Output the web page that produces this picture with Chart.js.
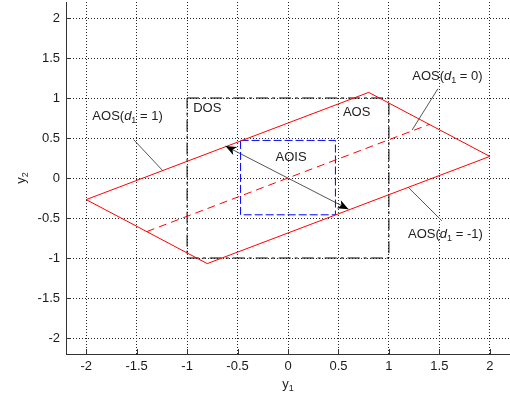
<!DOCTYPE html>
<html lang="en">
<head>
<meta charset="UTF-8">
<title>AOS / DOS / AOIS</title>
<script src="https://cdn.jsdelivr.net/npm/chart.js@4.4.1/dist/chart.umd.min.js"></script>
<style>
    html, body { margin: 0; padding: 0; background: #fff; }
    .chart-container { position: relative; width: 510px; height: 399px; }
</style>
</head>
<body>
<div class="chart-container"><canvas id="aosChart"></canvas></div>
<script>
// --- axis limits and ticks ---
const axisMin = -2.2, axisMax = 2.2;
const xTicks = [-2, -1.5, -1, -0.5, 0, 0.5, 1, 1.5, 2];
const yTicks = [-2, -1.5, -1, -0.5, 0, 0.5, 1, 1.5, 2];

// --- AOS parallelogram (d1 from -1 to 1) ---
const aosX = [-2, 0.8, 2, -0.8, -2];
const aosY = [-0.27, 1.07, 0.27, -1.07, -0.27];
// AOS for d1 = 0
const midX = [-1.4, 1.4];
const midY = [-0.67, 0.67];
// DOS box
const dosX = [-1, 1, 1, -1, -1];
const dosY = [1, 1, -1, -1, 1];
// AOIS box
const aoisX = [-0.47, 0.47, 0.47, -0.47, -0.47];
const aoisY = [0.47, 0.47, -0.46, -0.46, 0.47];
// double arrow
const arrowX = [-0.62, 0.6];
const arrowY = [0.40, -0.39];
// leader lines for the labels
const lead1X = [-1.53, -1.24], lead1Y = [0.48, 0.09];
const lead0X = [1.485, 1.23], lead0Y = [1.115, 0.6];
const leadM1X = [1.19, 1.525], leadM1Y = [-0.115, -0.535];

// --- text labels (data units) ---
const labelX = [-1.59, 1.58, 1.56, -0.80, 0.68, 0.03];
const labelY = [0.77, 1.27, -0.71, 0.866, 0.815, 0.254];
const labelParts = [
    [{t: 'AOS('}, {t: 'd', it: true}, {t: '1', sub: true}, {t: ' = 1)'}],
    [{t: 'AOS('}, {t: 'd', it: true}, {t: '1', sub: true}, {t: ' = 0)'}],
    [{t: 'AOS('}, {t: 'd', it: true}, {t: '1', sub: true}, {t: ' = -1)'}],
    [{t: 'DOS'}],
    [{t: 'AOS'}],
    [{t: 'AOIS'}]
];

const FONT = "'Liberation Sans', Arial, Helvetica, sans-serif";
const FS = 13;

const pts = (xs, ys) => xs.map((x, i) => ({x: x, y: ys[i]}));

function line(xs, ys, color, dash, width) {
    return {
        data: pts(xs, ys),
        showLine: true,
        borderColor: color,
        borderWidth: width || 1,
        borderDash: dash || [],
        pointRadius: 0,
        fill: false,
        tension: 0
    };
}

function fontFor(p, size) {
    const s = p.sub ? Math.round(size * 0.7) : size;
    return (p.it ? 'italic ' : '') + s + 'px ' + FONT;
}

function drawRich(ctx, cx, cy, parts, size) {
    let w = 0;
    parts.forEach(p => { ctx.font = fontFor(p, size); p.w = ctx.measureText(p.t).width; w += p.w; });
    let x = cx - w / 2;
    ctx.textAlign = 'left';
    ctx.textBaseline = 'middle';
    parts.forEach(p => {
        ctx.font = fontFor(p, size);
        ctx.fillText(p.t, x, cy + (p.sub ? size * 0.32 : 0));
        x += p.w;
    });
}

function arrowHead(ctx, x0, y0, x1, y1) {
    // head at (x1, y1) pointing away from (x0, y0)
    const a = Math.atan2(y1 - y0, x1 - x0);
    const len = 11, half = 4.5, notch = 3;
    ctx.save();
    ctx.translate(x1, y1);
    ctx.rotate(a);
    ctx.beginPath();
    ctx.moveTo(0, 0);
    ctx.lineTo(-len, -half);
    ctx.lineTo(-len + notch, 0);
    ctx.lineTo(-len, half);
    ctx.closePath();
    ctx.fillStyle = '#000';
    ctx.fill();
    ctx.restore();
}

const decorations = {
    id: 'decorations',
    afterDraw(chart) {
        const {ctx, chartArea: a, scales: {x, y}} = chart;
        ctx.save();
        // inward tick marks (matlab style)
        ctx.strokeStyle = '#333';
        ctx.lineWidth = 1;
        ctx.beginPath();
        xTicks.forEach(v => {
            const px = Math.round(x.getPixelForValue(v)) + 0.5;
            ctx.moveTo(px, a.bottom); ctx.lineTo(px, a.bottom - 5);
        });
        yTicks.forEach(v => {
            const py = Math.round(y.getPixelForValue(v)) + 0.5;
            ctx.moveTo(a.left, py); ctx.lineTo(a.left + 5, py);
        });
        ctx.stroke();

        // arrow heads
        const ax = arrowX.map(v => x.getPixelForValue(v));
        const ay = arrowY.map(v => y.getPixelForValue(v));
        arrowHead(ctx, ax[1], ay[1], ax[0], ay[0]);
        arrowHead(ctx, ax[0], ay[0], ax[1], ay[1]);

        // text labels
        ctx.fillStyle = '#222';
        labelParts.forEach((parts, i) => {
            drawRich(ctx, x.getPixelForValue(labelX[i]), y.getPixelForValue(labelY[i]), parts, FS);
        });

        // axis titles
        drawRich(ctx, (a.left + a.right) / 2, 384, [{t: 'y'}, {t: '1', sub: true}], FS);
        ctx.save();
        ctx.translate(21, (a.top + a.bottom) / 2);
        ctx.rotate(-Math.PI / 2);
        drawRich(ctx, 0, 0, [{t: 'y'}, {t: '2', sub: true}], FS);
        ctx.restore();
        ctx.restore();
    }
};

const tickText = v => String(v);

const ctx = document.getElementById('aosChart').getContext('2d');
new Chart(ctx, {
    type: 'scatter',
    data: {
        datasets: [
            line(aosX, aosY, '#ff0000'),
            line(midX, midY, '#ff0000', [8, 5]),
            line(dosX, dosY, '#000000', [12, 4, 3, 4]),
            line(aoisX, aoisY, '#0000ff', [8, 3]),
            line(arrowX, arrowY, '#555555'),
            line(lead1X, lead1Y, '#555555'),
            line(lead0X, lead0Y, '#555555'),
            line(leadM1X, leadM1Y, '#555555')
        ]
    },
    options: {
        responsive: true,
        maintainAspectRatio: false,
        animation: false,
        events: [],
        layout: { padding: { top: 2, right: 0, left: 0, bottom: 0 } },
        plugins: { legend: { display: false }, tooltip: { enabled: false } },
        scales: {
            x: {
                type: 'linear',
                min: axisMin,
                max: axisMax,
                afterBuildTicks: s => { s.ticks = xTicks.map(v => ({value: v})); },
                afterFit: s => { s.height = 45; s.paddingLeft = 0; s.paddingRight = 0; },
                grid: { color: '#222', lineWidth: 1, drawTicks: false },
                border: { display: true, color: '#333', width: 1, dash: [1, 2] },
                ticks: { padding: 5, color: '#1a1a1a', font: { family: FONT, size: FS }, maxRotation: 0, callback: tickText }
            },
            y: {
                type: 'linear',
                min: axisMin,
                max: axisMax,
                afterBuildTicks: s => { s.ticks = yTicks.map(v => ({value: v})); },
                afterFit: s => { s.width = 66; s.paddingTop = 0; s.paddingBottom = 0; },
                grid: { color: '#222', lineWidth: 1, drawTicks: false },
                border: { display: true, color: '#333', width: 1, dash: [1, 2] },
                ticks: { padding: 6, color: '#1a1a1a', font: { family: FONT, size: FS }, callback: tickText }
            }
        }
    },
    plugins: [decorations]
});
</script>
</body>
</html>
